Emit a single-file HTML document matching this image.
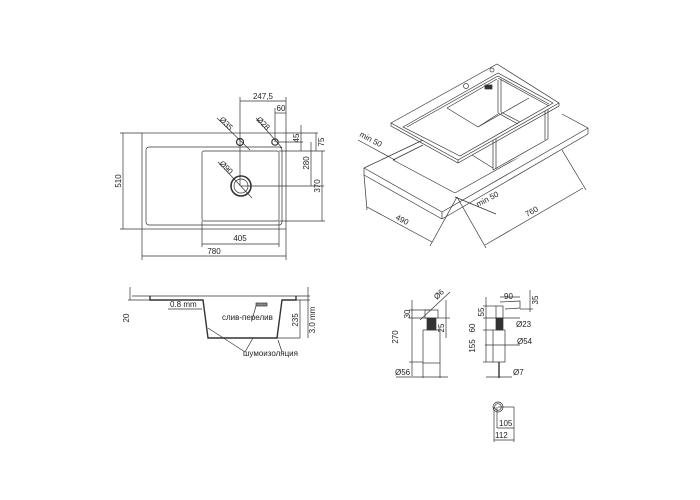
<!DOCTYPE html>
<html><head><meta charset="utf-8"><style>
html,body{margin:0;padding:0;background:#fff;}
svg{display:block}
text{font-family:"Liberation Sans",sans-serif;fill:#222;font-size:8px}
</style></head><body>
<svg width="700" height="500" viewBox="0 0 700 500" xmlns="http://www.w3.org/2000/svg">
<g stroke="#333" stroke-width="0.7" fill="none">
<!-- TOP VIEW -->
<rect x="142" y="133" width="144" height="96"/>
<rect x="146" y="147" width="136" height="78" rx="3"/>
<rect x="202" y="151" width="77" height="70" rx="2"/>
<circle cx="241" cy="186" r="10" stroke-width="1.6"/>
<circle cx="241" cy="186" r="7"/>
<circle cx="240" cy="142" r="3.5" stroke-width="1.2"/>
<circle cx="275" cy="142" r="3.2" stroke-width="1.2"/>
<line x1="217" y1="118" x2="250" y2="150"/>
<line x1="256" y1="118" x2="282" y2="148"/>
<line x1="218" y1="162" x2="252" y2="198"/>
<line x1="123" y1="133" x2="123" y2="229"/>
<line x1="120" y1="133" x2="142" y2="133"/><line x1="120" y1="229" x2="142" y2="229"/>
<line x1="142" y1="229" x2="142" y2="260"/><line x1="286" y1="229" x2="286" y2="260"/>
<line x1="142" y1="256" x2="286" y2="256"/>
<line x1="202" y1="221" x2="202" y2="247"/><line x1="279" y1="221" x2="279" y2="247"/>
<line x1="202" y1="244" x2="279" y2="244"/>
<line x1="240" y1="97" x2="240" y2="186"/><line x1="286" y1="97" x2="286" y2="133"/>
<line x1="240" y1="101" x2="286" y2="101"/>
<line x1="275" y1="108" x2="275" y2="142"/>
<line x1="275" y1="113" x2="286" y2="113"/>
<line x1="241" y1="186" x2="324" y2="186"/>
<line x1="279" y1="151" x2="325" y2="151"/>
<line x1="279" y1="221" x2="325" y2="221"/>
<line x1="278" y1="142" x2="303" y2="142"/>
<line x1="286" y1="133" x2="318" y2="133"/>
<line x1="301" y1="125" x2="301" y2="151"/>
<line x1="311" y1="142" x2="311" y2="186"/>
<line x1="316" y1="133" x2="316" y2="151"/>
<line x1="322" y1="151" x2="322" y2="221"/>

<!-- ISOMETRIC: countertop -->
<polygon points="364,168 423,140 588,128 442,212" fill="#fff" stroke="none"/>
<line x1="364" y1="168" x2="423" y2="140"/>
<line x1="364" y1="168" x2="442" y2="212"/>
<line x1="442" y1="212" x2="588" y2="128"/>
<line x1="562" y1="114" x2="588" y2="128"/>
<line x1="364" y1="168" x2="364" y2="175"/>
<line x1="364" y1="175" x2="442" y2="219"/>
<line x1="442" y1="212" x2="442" y2="219"/>
<line x1="442" y1="219" x2="588" y2="134"/>
<line x1="588" y1="128" x2="588" y2="134"/>
<!-- hole edges -->
<line x1="393" y1="160" x2="423" y2="145"/>
<line x1="393" y1="160" x2="455" y2="193"/>
<line x1="455" y1="193" x2="555" y2="137"/>
<!-- bowl exterior -->
<polygon points="470,155 493,138 545,110 555,114 555,140 493,170" fill="#fff" stroke="none"/>
<line x1="493" y1="138" x2="493" y2="170"/>
<line x1="496" y1="137" x2="496" y2="169"/>
<line x1="545" y1="110" x2="545" y2="140"/>
<line x1="548" y1="109" x2="548" y2="139"/>
<line x1="493" y1="170" x2="548" y2="139"/>
<line x1="472" y1="155" x2="493" y2="168"/>
<!-- sink top -->
<polygon points="391,123 497,64 559,103 458,160" fill="#fff"/>
<polyline points="391,123 391,126 458,163 559,106 559,103"/>
<line x1="458" y1="160" x2="458" y2="163"/>
<polygon points="403,127 498,73 553,103 460,156"/>
<polyline points="407,127 498,76 549,104"/>
<!-- drain board / bowl -->
<line x1="447" y1="108" x2="478" y2="127"/>
<line x1="447" y1="108" x2="497" y2="79"/>
<line x1="478" y1="127" x2="529" y2="98" />
<line x1="498" y1="80" x2="498" y2="113"/>
<line x1="501" y1="79" x2="501" y2="112"/>
<line x1="478" y1="127" x2="498" y2="114"/>
<line x1="498" y1="113" x2="518" y2="124"/>
<line x1="501" y1="112" x2="520" y2="122"/>
<line x1="498" y1="78" x2="549" y2="106"/>
<circle cx="466" cy="86" r="2.5"/><circle cx="492" cy="70" r="2"/>
<rect x="485" y="85" width="7" height="4" fill="#333"/>
<!-- iso dims -->
<line x1="358" y1="140" x2="395" y2="160"/>
<line x1="364" y1="175" x2="367" y2="210"/>
<line x1="367" y1="207" x2="432" y2="242"/>
<line x1="457" y1="197" x2="430" y2="246"/>
<line x1="457" y1="197" x2="486" y2="248"/>
<line x1="485" y1="245" x2="583" y2="188"/>
<line x1="562" y1="150" x2="586" y2="190"/>
<line x1="455" y1="197" x2="496" y2="214"/>
</g>
<g stroke="#333" stroke-width="0.7" fill="none">
<!-- SECTION -->
<line x1="132" y1="296" x2="310" y2="296"/>
<polyline points="150,296 150,300 203,300 208,338 277,338 282,300 296,300 296,296" stroke-width="1.4"/>
<line x1="130" y1="287" x2="130" y2="300"/>
<line x1="128" y1="300" x2="150" y2="300"/>
<line x1="168" y1="309" x2="202" y2="309"/>
<line x1="300" y1="300" x2="300" y2="338"/>
<line x1="282" y1="300" x2="310" y2="300"/>
<line x1="300" y1="338" x2="277" y2="338"/>
<line x1="308" y1="287" x2="308" y2="338"/>
<line x1="208" y1="328" x2="245" y2="352"/>
<line x1="253" y1="338" x2="245" y2="352"/>
<line x1="278" y1="340" x2="282" y2="352"/>
<rect x="256" y="303" width="11" height="3" fill="#888"/>
<line x1="256" y1="306" x2="252" y2="320"/>
<!-- DISPENSER LEFT -->
<rect x="423" y="330" width="17" height="33"/>
<rect x="427" y="318" width="9" height="12" fill="#333"/>
<rect x="425" y="310" width="13" height="8"/>
<line x1="412" y1="300" x2="412" y2="376"/><line x1="409" y1="310" x2="430" y2="310"/><line x1="409" y1="362" x2="423" y2="362"/>
<line x1="409" y1="318" x2="430" y2="318"/>
<line x1="420" y1="320" x2="450" y2="292"/>
<line x1="446" y1="300" x2="446" y2="338"/><line x1="438" y1="318" x2="450" y2="318"/>
<line x1="423" y1="363" x2="423" y2="378"/><line x1="440" y1="363" x2="440" y2="378"/>
<line x1="396" y1="377" x2="448" y2="377"/>
<!-- DISPENSER RIGHT -->
<rect x="493" y="330" width="12" height="32"/>
<rect x="496" y="318" width="7" height="12" fill="#333"/>
<rect x="496" y="306" width="7" height="12"/>
<polyline points="500,302 520,301 520,308 505,309"/>
<line x1="499" y1="362" x2="499" y2="378" stroke-width="1.4"/>
<line x1="486" y1="297" x2="486" y2="362"/>
<line x1="483" y1="306" x2="496" y2="306"/><line x1="483" y1="318" x2="520" y2="318"/>
<line x1="483" y1="330" x2="493" y2="330"/><line x1="483" y1="362" x2="493" y2="362"/>
<line x1="500" y1="297" x2="520" y2="297"/>
<line x1="530" y1="290" x2="530" y2="312"/><line x1="520" y1="309" x2="533" y2="309"/>
<line x1="485" y1="345" x2="520" y2="345"/>
<line x1="486" y1="377" x2="512" y2="377"/>
<circle cx="498" cy="407" r="5"/><circle cx="498" cy="407" r="3.3"/>
<line x1="498" y1="407" x2="514" y2="407"/>
<line x1="494" y1="407" x2="494" y2="442"/><line x1="514" y1="407" x2="514" y2="442"/>
<line x1="497" y1="407" x2="497" y2="428"/>
<line x1="494" y1="440" x2="514" y2="440"/><line x1="497" y1="428" x2="514" y2="428"/>
</g>
<text x="214" y="254" text-anchor="middle">780</text>
<text x="240" y="241" text-anchor="middle">405</text>
<text x="263" y="99" text-anchor="middle">247,5</text>
<text x="281" y="111" text-anchor="middle">60</text>
<text transform="translate(121,181) rotate(-90)" text-anchor="middle">510</text>
<text transform="translate(320,186) rotate(-90)" text-anchor="middle">370</text>
<text transform="translate(309,163) rotate(-90)" text-anchor="middle">280</text>
<text transform="translate(299,138) rotate(-90)" text-anchor="middle">45</text>
<text transform="translate(324,142) rotate(-90)" text-anchor="middle">75</text>
<text transform="translate(219,120) rotate(45)">Ø35</text>
<text transform="translate(256,120) rotate(45)">Ø28</text>
<text transform="translate(219,164) rotate(45)">Ø90</text>
<text transform="translate(359,136) rotate(28)" font-size="7">min 50</text>
<text transform="translate(478,207) rotate(-28)" font-size="7">min 50</text>
<text transform="translate(395,219) rotate(28)" font-size="7">490</text>
<text transform="translate(527,217) rotate(-28)" font-size="7">760</text>
<text x="170" y="307" font-size="7">0.8 mm</text>
<text x="222" y="320" font-size="5">слив-перелив</text>
<text x="243" y="356" font-size="5">шумоизоляция</text>
<text transform="translate(129,318) rotate(-90)" text-anchor="middle">20</text>
<text transform="translate(298,320) rotate(-90)" text-anchor="middle">235</text>
<text transform="translate(315,320) rotate(-90)" text-anchor="middle">3.0 mm</text>
<text transform="translate(410,314) rotate(-90)" text-anchor="middle">30</text>
<text transform="translate(398,337) rotate(-90)" text-anchor="middle">270</text>
<text transform="translate(444,328) rotate(-90)" text-anchor="middle">25</text>
<text transform="translate(437,300) rotate(-45)">Ø6</text>
<text x="395" y="375">Ø56</text>
<text x="504" y="299">90</text>
<text transform="translate(538,300) rotate(-90)" text-anchor="middle">35</text>
<text transform="translate(484,312) rotate(-90)" text-anchor="middle">55</text>
<text transform="translate(475,328) rotate(-90)" text-anchor="middle">60</text>
<text transform="translate(475,346) rotate(-90)" text-anchor="middle">155</text>
<text x="516" y="327">Ø23</text>
<text x="517" y="344">Ø54</text>
<text x="513" y="375">Ø7</text>
<text x="499" y="426">105</text>
<text x="495" y="438">112</text>
</svg>
</body></html>
